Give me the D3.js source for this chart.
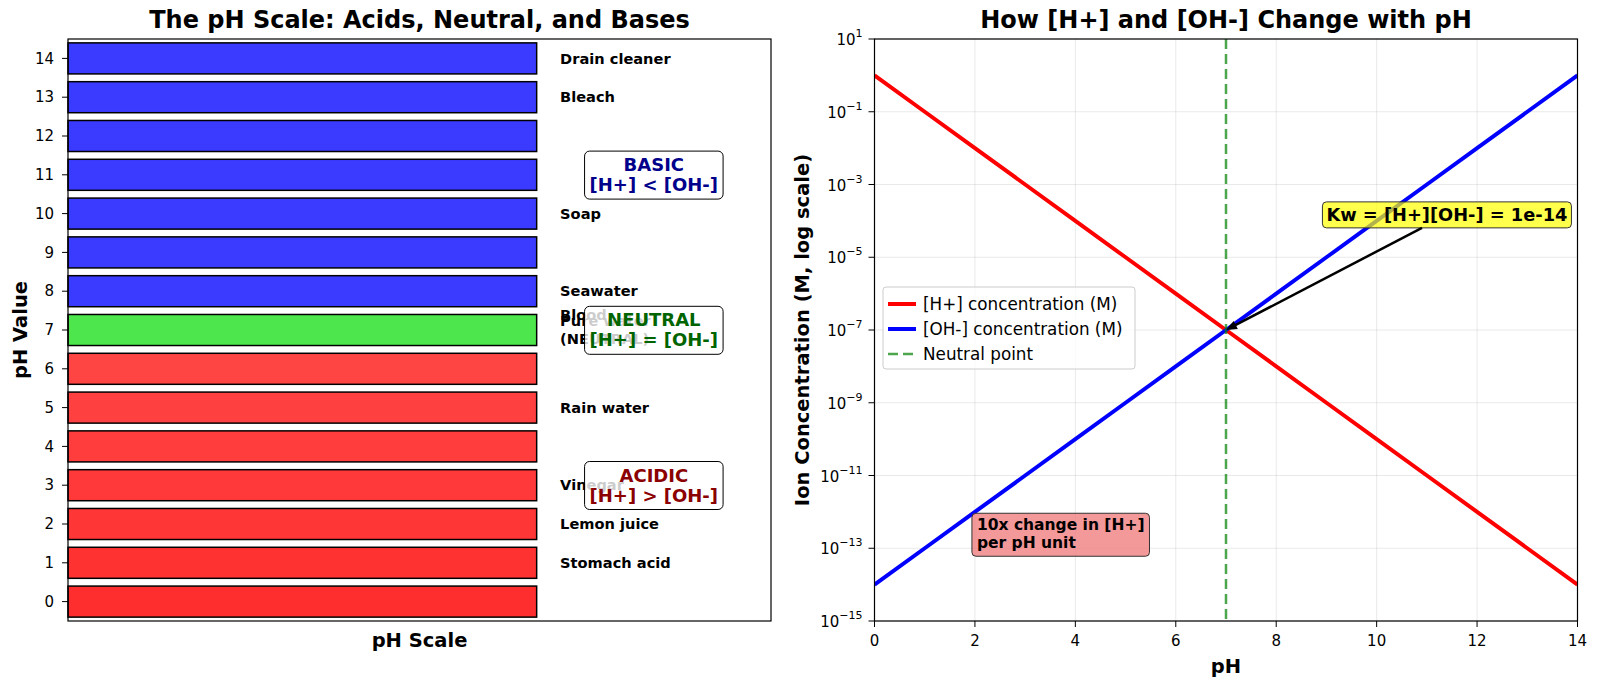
<!DOCTYPE html>
<html>
<head>
<meta charset="utf-8">
<style>
body { margin: 0; background: #fff; }
svg text { font-family: "DejaVu Sans", sans-serif; }
</style>
<script src="https://d3js.org/d3.v7.min.js"></script>
</head>
<body>
<div id="container"></div>
<script>
// pH scale bars (left panel)
const phLevels = [0, 1, 2, 3, 4, 5, 6, 7, 8, 9, 10, 11, 12, 13, 14];
const sampleNames = ["Stomach acid", "Lemon juice", "Vinegar", "Rain water", "Pure water\n(NEUTRAL)", "Blood", "Seawater", "Soap", "Bleach", "Drain cleaner"];
const samplePh = [1, 2, 3, 5, 7, 7.4, 8, 10, 13, 14];
const regionNames = ["BASIC\n[H+] < [OH-]", "NEUTRAL\n[H+] = [OH-]", "ACIDIC\n[H+] > [OH-]"];
const regionPh = [11, 7, 3];

// ion concentrations (right panel)
const phPoints = [0, 1, 2, 3, 4, 5, 6, 7, 8, 9, 10, 11, 12, 13, 14];
const hConc = [1, 1e-1, 1e-2, 1e-3, 1e-4, 1e-5, 1e-6, 1e-7, 1e-8, 1e-9, 1e-10, 1e-11, 1e-12, 1e-13, 1e-14];
const ohConc = [1e-14, 1e-13, 1e-12, 1e-11, 1e-10, 1e-9, 1e-8, 1e-7, 1e-6, 1e-5, 1e-4, 1e-3, 1e-2, 1e-1, 1];
const xTicks = [0, 2, 4, 6, 8, 10, 12, 14];
const yTickExps = [1, -1, -3, -5, -7, -9, -11, -13, -15];

const width = 1600, height = 688;
const svg = d3.select("#container").append("svg")
    .attr("width", width).attr("height", height);

const TICK = 15, LABEL = 19.5, TITLE = 24;

// ---------- left panel ----------
const L = {left: 68, right: 771, top: 39, bottom: 621};
const xL = d3.scaleLinear().domain([0, 1.5]).range([L.left, L.right]);
const yL = d3.scaleLinear().domain([-0.5, 14.5]).range([L.bottom, L.top]);
const barH = yL(0) - yL(0.8);

function barColor(p) {
  let base, a;
  if (p < 7) { base = [255, 0, 0]; a = 0.72 + 0.014 * (7 - p); }
  else if (p > 7) { base = [0, 0, 255]; a = 0.77; }
  else { base = [0, 220, 0]; a = 0.7; }
  return d3.rgb(...base.map(c => Math.round(c * a + 255 * (1 - a)))).toString();
}

const gL = svg.append("g");
gL.selectAll("rect.bar").data(phLevels).join("rect")
    .attr("class", "bar")
    .attr("x", xL(0))
    .attr("y", d => yL(d + 0.4))
    .attr("width", xL(1) - xL(0))
    .attr("height", barH)
    .attr("fill", barColor)
    .attr("stroke", "#000")
    .attr("stroke-width", 1.5);

// sample labels
samplePh.forEach((p, i) => {
  const lines = sampleNames[i].split("\n");
  const lh = 18;
  const t = gL.append("text")
      .attr("font-size", 14.6)
      .attr("font-weight", "bold")
      .attr("fill", "#000");
  lines.forEach((ln, j) => {
    t.append("tspan")
        .attr("x", xL(1.05))
        .attr("y", yL(p) + (j - (lines.length - 1) / 2) * lh)
        .attr("dy", "0.35em")
        .text(ln);
  });
});

// region boxes
const regionColors = ["#00008b", "#006400", "#8b0000"];
regionPh.forEach((p, i) => {
  const lines = regionNames[i].split("\n");
  const g = gL.append("g");
  const boxG = g.append("g");
  const lh = 20;
  const t = g.append("text")
      .attr("text-anchor", "middle")
      .attr("font-size", 18)
      .attr("font-weight", "bold")
      .attr("fill", regionColors[i]);
  lines.forEach((ln, j) => {
    t.append("tspan")
        .attr("x", xL(1.25))
        .attr("y", yL(p) + (j - (lines.length - 1) / 2) * lh)
        .attr("dy", "0.35em")
        .text(ln);
  });
  const bb = t.node().getBBox();
  const pad = 5;
  boxG.append("rect")
      .attr("x", bb.x - pad).attr("y", bb.y - pad + 2)
      .attr("width", bb.width + 2 * pad).attr("height", bb.height + 2 * pad - 3)
      .attr("rx", 5)
      .attr("fill", "#fff").attr("fill-opacity", 0.8)
      .attr("stroke", "#000").attr("stroke-width", 1);
});

// frame
gL.append("rect")
    .attr("x", L.left).attr("y", L.top)
    .attr("width", L.right - L.left).attr("height", L.bottom - L.top)
    .attr("fill", "none").attr("stroke", "#000").attr("stroke-width", 1.2);

// y axis ticks
phLevels.forEach(p => {
  gL.append("line")
      .attr("x1", L.left - 6).attr("x2", L.left)
      .attr("y1", yL(p)).attr("y2", yL(p))
      .attr("stroke", "#000").attr("stroke-width", 1);
  gL.append("text")
      .attr("x", L.left - 14).attr("y", yL(p)).attr("dy", "0.35em")
      .attr("text-anchor", "end").attr("font-size", TICK)
      .text(p);
});

gL.append("text")
    .attr("x", (L.left + L.right) / 2).attr("y", 28)
    .attr("text-anchor", "middle").attr("font-size", TITLE).attr("font-weight", "bold")
    .text("The pH Scale: Acids, Neutral, and Bases");
gL.append("text")
    .attr("x", (L.left + L.right) / 2).attr("y", 647)
    .attr("text-anchor", "middle").attr("font-size", LABEL).attr("font-weight", "bold")
    .text("pH Scale");
gL.append("text")
    .attr("transform", `translate(27,${(L.top + L.bottom) / 2}) rotate(-90)`)
    .attr("text-anchor", "middle").attr("font-size", LABEL).attr("font-weight", "bold")
    .text("pH Value");

// ---------- right panel ----------
const R = {left: 874.5, right: 1577.5, top: 39, bottom: 621};
const xR = d3.scaleLinear().domain([0, 14]).range([R.left, R.right]);
const yR = d3.scaleLog().domain([1e-15, 10]).range([R.bottom, R.top]);
const gR = svg.append("g");

// grid
xTicks.forEach(v => {
  gR.append("line").attr("x1", xR(v)).attr("x2", xR(v))
      .attr("y1", R.top).attr("y2", R.bottom)
      .attr("stroke", "#b0b0b0").attr("stroke-opacity", 0.35).attr("stroke-width", 0.8);
});
yTickExps.forEach(e => {
  gR.append("line").attr("x1", R.left).attr("x2", R.right)
      .attr("y1", yR(Math.pow(10, e))).attr("y2", yR(Math.pow(10, e)))
      .attr("stroke", "#b0b0b0").attr("stroke-opacity", 0.35).attr("stroke-width", 0.8);
});

svg.append("clipPath").attr("id", "clipR")
    .append("rect").attr("x", R.left).attr("y", R.top)
    .attr("width", R.right - R.left).attr("height", R.bottom - R.top);

const line = d3.line().x(d => xR(d[0])).y(d => yR(d[1]));
gR.append("path")
    .attr("d", line(phPoints.map((p, i) => [p, hConc[i]])))
    .attr("fill", "none").attr("stroke", "#ff0000").attr("stroke-width", 4)
    .attr("clip-path", "url(#clipR)");
gR.append("path")
    .attr("d", line(phPoints.map((p, i) => [p, ohConc[i]])))
    .attr("fill", "none").attr("stroke", "#0000ff").attr("stroke-width", 4)
    .attr("clip-path", "url(#clipR)");
gR.append("line")
    .attr("x1", xR(7)).attr("x2", xR(7)).attr("y1", R.top).attr("y2", R.bottom)
    .attr("stroke", "#008000").attr("stroke-opacity", 0.7).attr("stroke-width", 2.5)
    .attr("stroke-dasharray", "10,5");

// frame
gR.append("rect")
    .attr("x", R.left).attr("y", R.top)
    .attr("width", R.right - R.left).attr("height", R.bottom - R.top)
    .attr("fill", "none").attr("stroke", "#000").attr("stroke-width", 1.2);

// x ticks
xTicks.forEach(v => {
  gR.append("line").attr("x1", xR(v)).attr("x2", xR(v))
      .attr("y1", R.bottom).attr("y2", R.bottom + 6).attr("stroke", "#000");
  gR.append("text").attr("x", xR(v)).attr("y", R.bottom + 25)
      .attr("text-anchor", "middle").attr("font-size", TICK).text(v);
});
// y ticks
yTickExps.forEach(e => {
  const y = yR(Math.pow(10, e));
  gR.append("line").attr("x1", R.left - 6).attr("x2", R.left)
      .attr("y1", y).attr("y2", y).attr("stroke", "#000");
  const t = gR.append("text").attr("x", R.left - 12).attr("y", y + 6)
      .attr("text-anchor", "end").attr("font-size", TICK);
  t.append("tspan").text("10");
  t.append("tspan").attr("dy", -8).attr("font-size", 11)
      .text(e < 0 ? "\u2212" + (-e) : String(e));
});

gR.append("text")
    .attr("x", (R.left + R.right) / 2).attr("y", 28)
    .attr("text-anchor", "middle").attr("font-size", TITLE).attr("font-weight", "bold")
    .text("How [H+] and [OH-] Change with pH");
gR.append("text")
    .attr("x", (R.left + R.right) / 2).attr("y", 673)
    .attr("text-anchor", "middle").attr("font-size", LABEL).attr("font-weight", "bold")
    .text("pH");
gR.append("text")
    .attr("transform", `translate(809,${(R.top + R.bottom) / 2}) rotate(-90)`)
    .attr("text-anchor", "middle").attr("font-size", LABEL).attr("font-weight", "bold")
    .text("Ion Concentration (M, log scale)");

// legend
const legItems = [
  {label: "[H+] concentration (M)", color: "#ff0000", dash: null, w: 4, op: 1},
  {label: "[OH-] concentration (M)", color: "#0000ff", dash: null, w: 4, op: 1},
  {label: "Neutral point", color: "#008000", dash: "10,5", w: 2.5, op: 0.7}
];
const leg = gR.append("g");
leg.append("rect").attr("x", 883).attr("y", 287).attr("width", 252).attr("height", 82)
    .attr("rx", 3).attr("fill", "#fff").attr("fill-opacity", 0.8)
    .attr("stroke", "#ccc").attr("stroke-width", 1);
legItems.forEach((it, i) => {
  const y = 304 + i * 25;
  leg.append("line").attr("x1", 888).attr("x2", 916).attr("y1", y).attr("y2", y)
      .attr("stroke", it.color).attr("stroke-width", it.w).attr("stroke-opacity", it.op)
      .attr("stroke-dasharray", it.dash);
  leg.append("text").attr("x", 923).attr("y", y).attr("dy", "0.35em")
      .attr("font-size", 16.8).text(it.label);
});

// Kw annotation
const kwG = gR.append("g");
const kwBoxG = kwG.append("g");
const kwText = kwG.append("text")
    .attr("x", xR(9)).attr("y", yR(1e-4))
    .attr("font-size", 17.8).attr("font-weight", "bold")
    .text("Kw = [H+][OH-] = 1e-14");
const kb = kwText.node().getBBox();
const kpad = 4;
const kbox = {x: kb.x - kpad, y: kb.y - kpad + 2, w: kb.width + 2 * kpad, h: kb.height + 2 * kpad - 3};
kwBoxG.append("rect")
    .attr("x", kbox.x).attr("y", kbox.y).attr("width", kbox.w).attr("height", kbox.h)
    .attr("rx", 4).attr("fill", "#ffff00").attr("fill-opacity", 0.7)
    .attr("stroke", "#333").attr("stroke-width", 1);
// arrow from box edge to neutral point
const cx = kbox.x + kbox.w / 2, cy = kbox.y + kbox.h / 2;
const px = xR(7), py = yR(1e-7);
const tEdge = Math.min((kbox.h / 2) / Math.abs(py - cy), (kbox.w / 2) / Math.abs(px - cx));
const sx = cx + (px - cx) * tEdge, sy = cy + (py - cy) * tEdge;
const ang = Math.atan2(py - sy, px - sx);
const ex = px - Math.cos(ang) * 4, ey = py - Math.sin(ang) * 4;
gR.append("line").attr("x1", sx).attr("y1", sy).attr("x2", ex).attr("y2", ey)
    .attr("stroke", "#000").attr("stroke-width", 2.5);
const hl = 11, hw = 4.5;
gR.append("path")
    .attr("d", `M${px},${py} L${px - hl * Math.cos(ang) + hw * Math.sin(ang)},${py - hl * Math.sin(ang) - hw * Math.cos(ang)} L${px - hl * Math.cos(ang) - hw * Math.sin(ang)},${py - hl * Math.sin(ang) + hw * Math.cos(ang)} Z`)
    .attr("fill", "#000");

// 10x annotation
const tenG = gR.append("g");
const tenBoxG = tenG.append("g");
const tenLines = ["10x change in [H+]", "per pH unit"];
const tenText = tenG.append("text")
    .attr("font-size", 15.5).attr("font-weight", "bold");
tenLines.forEach((ln, j) => {
  tenText.append("tspan").attr("x", xR(2) + 2)
      .attr("y", yR(1e-13) - (tenLines.length - 1 - j) * 18).text(ln);
});
const tb = tenText.node().getBBox();
tenBoxG.append("rect")
    .attr("x", tb.x - 5).attr("y", tb.y - 3).attr("width", tb.width + 10).attr("height", tb.height + 7)
    .attr("rx", 4).attr("fill", "#f08080").attr("fill-opacity", 0.8)
    .attr("stroke", "#333").attr("stroke-width", 1);
</script>
</body>
</html>
